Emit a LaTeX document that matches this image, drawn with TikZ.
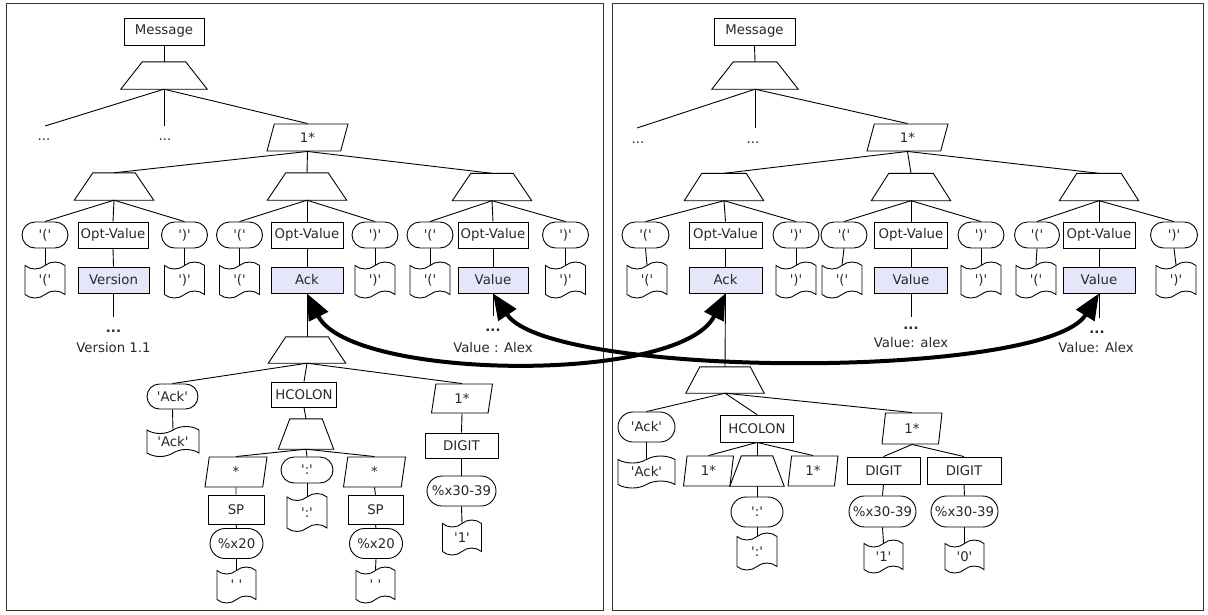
\documentclass[tikz,border=0pt]{standalone}
\usepackage{fontspec}
\setmainfont{DejaVu Sans}
\usetikzlibrary{shapes.geometric,shapes.misc,shapes.symbols,arrows.meta}
\definecolor{txt}{RGB}{40,40,40}
\definecolor{valfill}{RGB}{230,230,250}
\definecolor{frame}{RGB}{50,50,50}
\newcommand{\sq}[1]{\textquotesingle#1\textquotesingle}
% sequence trapezoid: name, x, y, top width, bottom width, height
\newcommand{\seqshape}[6]{%
  \node[inner sep=0pt, minimum width=#5pt, minimum height=#6pt] (#1) at (#2,#3) {};
  \draw[tl] (#1.south west) -- (#1.south east) -- ([xshift={-(#5-#4)/2*1pt}]#1.north east) -- ([xshift={(#5-#4)/2*1pt}]#1.north west) -- cycle;
}
\tikzset{
  every node/.style={font=\fontsize{13.3}{16}\selectfont, text=txt},
  tl/.style={draw=black, line width=0.9pt},
  panel/.style={draw=frame, line width=0.9pt},
  nbox/.style={draw=black, rectangle, inner sep=0pt, line width=0.9pt},
  vbox/.style={nbox, fill=valfill},
  term/.style={draw=black, rounded rectangle, inner sep=0pt, line width=0.9pt},
  doc/.style={draw=black, tape, inner sep=0pt, line width=0.9pt, tape bend height=7pt},
  rep/.style={draw=black, trapezium, trapezium stretches body, inner sep=0pt, line width=0.9pt},
  dots/.style={font=\fontsize{13.3}{16}\selectfont\bfseries},
  big/.style={line width=4pt, {Triangle[length=26pt,width=21pt]}-{Triangle[length=26pt,width=21pt]}},
}
\begin{document}
\begin{tikzpicture}[x=1pt,y=-1pt]
\useasboundingbox (0,0) rectangle (1208,614);
\draw[panel] (6,3) rectangle (603,610);
\draw[panel] (612,3) rectangle (1203,610);

% ================= LEFT PANEL =================
\node[nbox, minimum width=80pt, minimum height=27pt] (Lmsg) at (164,31.5) {Message};
\seqshape{Ls0}{164}{75.5}{43}{86}{27}
\coordinate (Le1) at (45,126);
\coordinate (Le2) at (164,126);
\node (Le1t) at (44,140) {...};
\node (Le2t) at (165,140) {...};
\node[rep, trapezium left angle=53.5, trapezium right angle=126.5, minimum width=81pt, minimum height=27pt] (Lr0) at (307.5,137.5) {1*};

\seqshape{LsA}{114}{186.5}{42}{79}{27}
\seqshape{LsB}{307}{186.5}{42}{79}{27}
\seqshape{LsC}{492}{187}{42}{79}{27}

\node[term, minimum width=46pt, minimum height=26pt] (LlpA) at (45,235) {\sq{(}};
\node[nbox, minimum width=70pt, minimum height=26pt] (LovA) at (113,235) {Opt-Value};
\node[term, minimum width=46pt, minimum height=26pt] (LrpA) at (184.5,235) {\sq{)}};
\node[term, minimum width=46pt, minimum height=26pt] (LlpB) at (239.5,235) {\sq{(}};
\node[nbox, minimum width=72pt, minimum height=26pt] (LovB) at (307,235) {Opt-Value};
\node[term, minimum width=46pt, minimum height=26pt] (LrpB) at (375,235) {\sq{)}};
\node[term, minimum width=46pt, minimum height=26pt] (LlpC) at (430,235) {\sq{(}};
\node[nbox, minimum width=70pt, minimum height=26pt] (LovC) at (493,235) {Opt-Value};
\node[term, minimum width=46pt, minimum height=26pt] (LrpC) at (565.5,235) {\sq{)}};

\node[doc, minimum width=40pt, minimum height=36pt] (LdlA) at (45,280) {\sq{(}};
\node[doc, minimum width=40pt, minimum height=36pt] (LdrA) at (184.5,280) {\sq{)}};
\node[doc, minimum width=40pt, minimum height=36pt] (LdlB) at (239.5,280) {\sq{(}};
\node[doc, minimum width=40pt, minimum height=36pt] (LdrB) at (375,280) {\sq{)}};
\node[doc, minimum width=40pt, minimum height=36pt] (LdlC) at (430,280) {\sq{(}};
\node[doc, minimum width=40pt, minimum height=36pt] (LdrC) at (565.5,280) {\sq{)}};

\node[vbox, minimum width=71pt, minimum height=26pt] (LvA) at (113.5,280) {Version};
\node[vbox, minimum width=72pt, minimum height=26pt] (LvB) at (307,280) {Ack};
\node[vbox, minimum width=70pt, minimum height=26pt] (LvC) at (493,280) {Value};

\coordinate (LeA) at (113.5,317);
\node[dots] (LeAd) at (113.5,331) {...};
\node (LeAt) at (113.5,347.5) {Version 1.1};
\coordinate (LeC) at (493,316);
\node[dots] (LeCd) at (493,330) {...};
\node (LeCt) at (493,347.5) {Value : Alex};

\seqshape{LsD}{307}{350}{42}{77}{26}
\node[term, minimum width=51pt, minimum height=25pt] (LtAck) at (172.5,396.5) {\sq{Ack}};
\node[nbox, minimum width=65pt, minimum height=25pt] (Lhc) at (304,394.5) {HCOLON};
\node[rep, trapezium left angle=65.9, trapezium right angle=114.1, minimum width=61pt, minimum height=29pt] (Lr1) at (462,398.5) {1*};
\node[doc, minimum width=52pt, minimum height=30pt] (LdAck) at (173,441.5) {\sq{Ack}};

\seqshape{LsE}{306}{434}{32}{55}{30}
\node[rep, trapezium left angle=66.6, trapezium right angle=113.4, minimum width=62pt, minimum height=30pt] (Lst1) at (236,472) {*};
\node[term, minimum width=52pt, minimum height=26pt] (Lcol) at (307,470) {\sq{:}};
\node[rep, trapezium left angle=66.6, trapezium right angle=113.4, minimum width=62pt, minimum height=30pt] (Lst2) at (374.5,472) {*};
\node[nbox, minimum width=56pt, minimum height=29pt] (Lsp1) at (236,509.5) {SP};
\node[nbox, minimum width=55pt, minimum height=29pt] (Lsp2) at (375.5,509.5) {SP};
\node[term, minimum width=53pt, minimum height=30pt] (Lx1) at (236.5,543.5) {\%x20};
\node[term, minimum width=53pt, minimum height=30pt] (Lx2) at (376,543.5) {\%x20};
\node[doc, minimum width=39pt, minimum height=36pt] (Ldsp1) at (236.5,585) {\sq{ }};
\node[doc, minimum width=39pt, minimum height=36pt] (Ldsp2) at (375.5,585) {\sq{ }};
\node[doc, minimum width=40pt, minimum height=38pt] (Ldcol) at (307,512.5) {\sq{:}};

\node[nbox, minimum width=73pt, minimum height=25pt] (Ldg) at (461.5,445.5) {DIGIT};
\node[term, minimum width=69pt, minimum height=30pt] (Lx3) at (461.5,491) {\%x30-39};
\node[doc, minimum width=39pt, minimum height=35pt] (Ld1) at (462,537.5) {\sq{1}};

% left connectors
\draw[tl] (Lmsg.south) -- (Ls0.north);
\draw[tl] (Ls0.south) -- (Le1);
\draw[tl] (Ls0.south) -- (Le2);
\draw[tl] (Ls0.south) -- (Lr0.north);
\draw[tl] (Lr0.south) -- (LsA.north);
\draw[tl] (Lr0.south) -- (LsB.north);
\draw[tl] (Lr0.south) -- (LsC.north);
\foreach \g in {A,B,C}{
  \draw[tl] (Ls\g.south) -- (Llp\g.north);
  \draw[tl] (Ls\g.south) -- (Lov\g.north);
  \draw[tl] (Ls\g.south) -- (Lrp\g.north);
  \draw[tl] (Llp\g.south) -- (Ldl\g.north);
  \draw[tl] (Lrp\g.south) -- (Ldr\g.north);
  \draw[tl] (Lov\g.south) -- (Lv\g.north);
}
\draw[tl] (LvA.south) -- (LeA);
\draw[tl] (LvC.south) -- (LeC);
\draw[tl] (LvB.south) -- (LsD.north);
\draw[tl] (LsD.south) -- (LtAck.north);
\draw[tl] (LsD.south) -- (Lhc.north);
\draw[tl] (LsD.south) -- (Lr1.north);
\draw[tl] (LtAck.south) -- (LdAck.north);
\draw[tl] (Lhc.south) -- (LsE.north);
\draw[tl] (LsE.south) -- (Lst1.north);
\draw[tl] (LsE.south) -- (Lcol.north);
\draw[tl] (LsE.south) -- (Lst2.north);
\draw[tl] (Lst1.south) -- (Lsp1.north);
\draw[tl] (Lst2.south) -- (Lsp2.north);
\draw[tl] (Lsp1.south) -- (Lx1.north);
\draw[tl] (Lsp2.south) -- (Lx2.north);
\draw[tl] (Lx1.south) -- (Ldsp1.north);
\draw[tl] (Lx2.south) -- (Ldsp2.north);
\draw[tl] (Lcol.south) -- (Ldcol.north);
\draw[tl] (Lr1.south) -- (Ldg.north);
\draw[tl] (Ldg.south) -- (Lx3.north);
\draw[tl] (Lx3.south) -- (Ld1.north);

% ================= RIGHT PANEL =================
\node[nbox, minimum width=81pt, minimum height=27pt] (Rmsg) at (754.5,31.5) {Message};
\seqshape{Rs0}{755}{75.5}{43}{86}{27}
\coordinate (Re1) at (637,128);
\coordinate (Re2) at (755,128);
\node (Re1t) at (638,143) {...};
\node (Re2t) at (753,143) {...};
\node[rep, trapezium left angle=53.5, trapezium right angle=126.5, minimum width=81pt, minimum height=27pt] (Rr0) at (907.5,137.5) {1*};

\seqshape{RsA}{724}{187}{44}{79}{27}
\seqshape{RsB}{911}{187}{44}{79}{27}
\seqshape{RsC}{1099}{187}{44}{79}{27}

\node[term, minimum width=47pt, minimum height=26pt] (RlpA) at (645.5,235) {\sq{(}};
\node[nbox, minimum width=73pt, minimum height=26pt] (RovA) at (725.5,235) {Opt-Value};
\node[term, minimum width=46pt, minimum height=26pt] (RrpA) at (796,235) {\sq{)}};
\node[term, minimum width=46pt, minimum height=26pt] (RlpB) at (844,235) {\sq{(}};
\node[nbox, minimum width=73pt, minimum height=26pt] (RovB) at (911,235) {Opt-Value};
\node[term, minimum width=46pt, minimum height=26pt] (RrpB) at (981,235) {\sq{)}};
\node[term, minimum width=45pt, minimum height=26pt] (RlpC) at (1037,235) {\sq{(}};
\node[nbox, minimum width=72pt, minimum height=26pt] (RovC) at (1099,235) {Opt-Value};
\node[term, minimum width=47pt, minimum height=26pt] (RrpC) at (1174,235) {\sq{)}};

\node[doc, minimum width=40pt, minimum height=36pt] (RdlA) at (647,280) {\sq{(}};
\node[doc, minimum width=40pt, minimum height=36pt] (RdrA) at (796,280) {\sq{)}};
\node[doc, minimum width=40pt, minimum height=36pt] (RdlB) at (842,280) {\sq{(}};
\node[doc, minimum width=40pt, minimum height=36pt] (RdrB) at (981,280) {\sq{)}};
\node[doc, minimum width=40pt, minimum height=36pt] (RdlC) at (1036,280) {\sq{(}};
\node[doc, minimum width=40pt, minimum height=36pt] (RdrC) at (1176,280) {\sq{)}};

\node[vbox, minimum width=73pt, minimum height=26pt] (RvA) at (725.5,280) {Ack};
\node[vbox, minimum width=73pt, minimum height=26pt] (RvB) at (911,280) {Value};
\node[vbox, minimum width=72pt, minimum height=26pt] (RvC) at (1099,280) {Value};

\coordinate (ReB) at (911,317);
\node[dots] (ReBd) at (911,328) {...};
\node (ReBt) at (911,343) {Value: alex};
\coordinate (ReC) at (1099,318);
\node[dots] (ReCd) at (1097,332) {...};
\node (ReCt) at (1096,348) {Value: Alex};

\seqshape{RsD}{725}{380}{50}{78}{26}
\node[term, minimum width=57pt, minimum height=30pt] (RtAck) at (646.5,427) {\sq{Ack}};
\node[nbox, minimum width=73pt, minimum height=27pt] (Rhc) at (757,428.5) {HCOLON};
\node[rep, trapezium left angle=70.5, trapezium right angle=109.5, minimum width=60pt, minimum height=31pt] (Rr1) at (912,428.5) {1*};
\node[doc, minimum width=57pt, minimum height=32pt] (RdAck) at (646.5,472) {\sq{Ack}};

\node[rep, trapezium left angle=70, trapezium right angle=110, minimum width=50pt, minimum height=30pt] (Rp2) at (708.5,471) {1*};
\seqshape{RsE}{757}{471}{31}{54}{30}
\node[rep, trapezium left angle=70, trapezium right angle=110, minimum width=50pt, minimum height=30pt] (Rp3) at (813,471) {1*};
\node[term, minimum width=52pt, minimum height=30pt] (Rcol) at (757,512) {\sq{:}};
\node[doc, minimum width=40pt, minimum height=37pt] (Rdcol) at (757,551.5) {\sq{:}};

\node[nbox, minimum width=73pt, minimum height=27pt] (Rdg1) at (883.5,470.5) {DIGIT};
\node[nbox, minimum width=74pt, minimum height=27pt] (Rdg2) at (964,470.5) {DIGIT};
\node[term, minimum width=67pt, minimum height=31pt] (Rx1) at (882.5,511.5) {\%x30-39};
\node[term, minimum width=67pt, minimum height=31pt] (Rx2) at (964.5,511.5) {\%x30-39};
\node[doc, minimum width=39pt, minimum height=33pt] (Rd1) at (883.5,556.5) {\sq{1}};
\node[doc, minimum width=39pt, minimum height=33pt] (Rd0) at (964.5,556.5) {\sq{0}};

% right connectors
\draw[tl] (Rmsg.south) -- (Rs0.north);
\draw[tl] (Rs0.south) -- (Re1);
\draw[tl] (Rs0.south) -- (Re2);
\draw[tl] (Rs0.south) -- (Rr0.north);
\draw[tl] (Rr0.south) -- (RsA.north);
\draw[tl] (Rr0.south) -- (RsB.north);
\draw[tl] (Rr0.south) -- (RsC.north);
\foreach \g in {A,B,C}{
  \draw[tl] (Rs\g.south) -- (Rlp\g.north);
  \draw[tl] (Rs\g.south) -- (Rov\g.north);
  \draw[tl] (Rs\g.south) -- (Rrp\g.north);
  \draw[tl] (Rlp\g.south) -- (Rdl\g.north);
  \draw[tl] (Rrp\g.south) -- (Rdr\g.north);
  \draw[tl] (Rov\g.south) -- (Rv\g.north);
}
\draw[tl] (RvB.south) -- (ReB);
\draw[tl] (RvC.south) -- (ReC);
\draw[tl] (RvA.south) -- (RsD.north);
\draw[tl] (RsD.south) -- (RtAck.north);
\draw[tl] (RsD.south) -- (Rhc.north);
\draw[tl] (RsD.south) -- (Rr1.north);
\draw[tl] (RtAck.south) -- (RdAck.north);
\draw[tl] (Rhc.south) -- (Rp2.north);
\draw[tl] (Rhc.south) -- (RsE.north);
\draw[tl] (Rhc.south) -- (Rp3.north);
\draw[tl] (RsE.south) -- (Rcol.north);
\draw[tl] (Rcol.south) -- (Rdcol.north);
\draw[tl] (Rr1.south) -- (Rdg1.north);
\draw[tl] (Rr1.south) -- (Rdg2.north);
\draw[tl] (Rdg1.south) -- (Rx1.north);
\draw[tl] (Rdg2.south) -- (Rx2.north);
\draw[tl] (Rx1.south) -- (Rd1.north);
\draw[tl] (Rx2.south) -- (Rd0.north);

% ================= ARROWS =================
\draw[big] (LvB.south) .. controls (350,380) and (680,385) .. (RvA.south);
\draw[big] (LvC.south) .. controls (550,379) and (1045,380) .. (RvC.south);
\end{tikzpicture}
\end{document}
